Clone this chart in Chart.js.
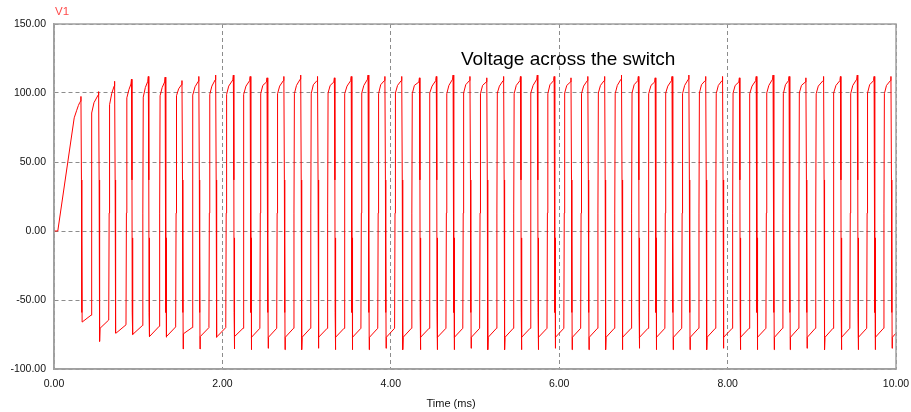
<!DOCTYPE html>
<html>
<head>
<meta charset="utf-8">
<script src="https://cdn.jsdelivr.net/npm/chart.js@4.4.1/dist/chart.umd.min.js"></script>
<style>
  html, body { margin: 0; padding: 0; background: #fff; }
  #wrap { width: 911px; height: 412px; }
</style>
</head>
<body>
<div id="wrap"><canvas id="chart" width="911" height="412"></canvas></div>
<script>
// start-up ramp before the first switching edge (ms, V)
const startT = [0, 0.045, 0.24, 0.27, 0.29, 0.305];
const startV = [0, 0, 82, 87.5, 91, 93];

// falling edges of the switch voltage (ms) and the values around them (V)
const fallT = [0.32, 0.53, 0.72, 0.92, 1.12, 1.32, 1.52, 1.72, 1.92, 2.13,
               2.33, 2.53, 2.73, 2.93, 3.13, 3.33, 3.53, 3.73, 3.93, 4.13,
               4.34, 4.54, 4.74, 4.94, 5.14, 5.34, 5.54, 5.74, 5.94, 6.14,
               6.34, 6.54, 6.74, 6.94, 7.14, 7.34, 7.54, 7.74, 7.94, 8.14,
               8.34, 8.54, 8.73, 8.93, 9.14, 9.34, 9.54, 9.74, 9.94];
const peakV = [97.5, 101, 108.5, 110, 112, 111.5, 109, 112, 113, 113,
               112, 111, 112, 113, 112, 111, 112, 113, 112, 112,
               111, 112, 113, 112, 111, 112, 112, 113, 112, 111,
               112, 112, 113, 112, 111, 112, 113, 112, 112, 111,
               112, 113, 112, 111, 112, 112, 113, 112, 112];
const kneeV = [94, 98.5, 105, 106.5, 108.5, 108, 106, 108.5, 109.5, 109.5,
               109, 108, 109, 110, 109, 108, 109, 110, 109, 109,
               108, 109, 110, 109, 108, 109, 109, 110, 109, 108,
               109, 109, 110, 109, 108, 109, 110, 109, 109, 108,
               109, 110, 109, 108, 109, 109, 110, 109, 109];
const dipV = [-66, -80, -74, -75, -76.5, -77, -85.5, -85.5, -77, -85.5,
              -86, -85, -86, -86, -85, -86, -86, -86, -85, -86,
              -86, -86, -86, -85, -86, -86, -86, -86, -85, -86,
              -86, -86, -86, -85, -86, -86, -86, -86, -85, -86,
              -86, -86, -86, -85, -86, -86, -86, -86, -85];
const lowA = [-66, -70.5, -74, -75, -76.5, -76.5, -74.5, -76.5, -76.5, -76.5,
              -77, -77, -77, -77, -77, -77, -77, -77, -77, -77,
              -77, -77, -77, -77, -77, -77, -77, -77, -77, -77,
              -77, -77, -77, -77, -77, -77, -77, -77, -77, -77,
              -77, -77, -77, -77, -77, -77, -77, -77, -77];

// rising edges (ms) and the values around them (V)
const riseT = [0.44, 0.65, 0.855, 1.05, 1.25, 1.445, 1.64, 1.84, 2.04, 2.245,
               2.445, 2.645, 2.845, 3.045, 3.245, 3.445, 3.645, 3.845, 4.045, 4.245,
               4.455, 4.655, 4.855, 5.055, 5.255, 5.455, 5.655, 5.855, 6.055, 6.255,
               6.455, 6.655, 6.855, 7.055, 7.255, 7.455, 7.655, 7.855, 8.055, 8.255,
               8.455, 8.652, 8.842, 9.042, 9.252, 9.452, 9.652, 9.852];
const lowB = [-61, -64.5, -68, -68.5, -69, -69.5, -70, -70, -70, -70.5,
              -70.5, -70.5, -70.5, -70.5, -70.5, -70.5, -70.5, -70.5, -70.5, -70.5,
              -70.5, -70.5, -70.5, -70.5, -70.5, -70.5, -70.5, -70.5, -70.5, -70.5,
              -70.5, -70.5, -70.5, -70.5, -70.5, -70.5, -70.5, -70.5, -70.5, -70.5,
              -70.5, -70.5, -70.5, -70.5, -70.5, -70.5, -70.5, -70.5];
const highV = [85.5, 91.5, 96.5, 97, 98, 98, 98.5, 99, 99, 99,
               99.5, 99.5, 99.5, 99.5, 100, 99.5, 100, 99.5, 100, 99.5,
               100, 99.5, 100, 99.5, 100, 99.5, 100, 99.5, 100, 99.5,
               100, 99.5, 100, 99.5, 100, 99.5, 100, 99.5, 100, 99.5,
               100, 99.5, 100, 99.5, 100, 99.5, 100, 99.5];
// value a little after each rise, where the top bends over
const midV = [93, 99.5, 102.5, 104, 104, 103, 104.5, 105, 105, 105,
              105.5, 105, 105.5, 106, 105.5, 105, 105.5, 106, 105.5, 105.5,
              105, 105.5, 106, 105.5, 105, 105.5, 105.5, 106, 105.5, 105,
              105.5, 105.5, 106, 105.5, 105, 105.5, 106, 105.5, 105.5, 105,
              105.5, 106, 105.5, 105, 105.5, 105.5, 106, 105.5];

// small steps seen on the edges (V)
const fallStepV = 37;
const ringLowV = -59;
const ringHighV = -5;
const riseStepV = 13;

// last sample at the end of the run
const endT = 10;
const endV = -74;

const xTicks = [0, 2, 4, 6, 8, 10];

const points = startT.map((t, i) => ({x: t, y: startV[i]}));
fallT.forEach((f, k) => {
    if (k > 0) {
        const r = riseT[k - 1];
        points.push({x: r, y: lowB[k - 1]}, {x: r + 0.005, y: riseStepV},
                    {x: r + 0.01, y: highV[k - 1]}, {x: r + 0.035, y: midV[k - 1]});
    }
    points.push({x: f - 0.006, y: kneeV[k]}, {x: f, y: peakV[k]});
    points.push({x: f + 0.006, y: fallStepV}, {x: f + 0.009, y: ringLowV}, {x: f + 0.011, y: ringHighV},
                {x: f + 0.014, y: dipV[k]}, {x: f + 0.017, y: lowA[k]});
});
points.push({x: endT, y: endV});

const FONT = 'Liberation Sans, Arial, sans-serif';

const frameAndText = {
    id: 'frameAndText',
    afterDraw(chart) {
        const {ctx, chartArea: a} = chart;
        ctx.save();
        ctx.strokeStyle = '#a0a0a0';
        ctx.lineWidth = 1.5;
        ctx.strokeRect(a.left, a.top, a.right - a.left, a.bottom - a.top);

        ctx.fillStyle = '#ff4a4a';
        ctx.font = '11.5px ' + FONT;
        ctx.textBaseline = 'middle';
        ctx.textAlign = 'left';
        ctx.fillText('V1', a.left + 1, 12);

        ctx.fillStyle = '#000';
        ctx.font = '19px ' + FONT;
        ctx.textBaseline = 'alphabetic';
        ctx.fillText('Voltage across the switch', 461, 65);

        ctx.fillStyle = '#111';
        ctx.font = '11px ' + FONT;
        ctx.textAlign = 'center';
        ctx.textBaseline = 'middle';
        ctx.fillText('Time (ms)', 451, 404);
        ctx.restore();
    }
};

new Chart(document.getElementById('chart'), {
    type: 'line',
    data: {
        datasets: [{
            label: 'V1',
            data: points,
            borderColor: '#ff0000',
            borderWidth: 1,
            pointRadius: 0,
            fill: false,
            tension: 0
        }]
    },
    options: {
        responsive: false,
        animation: false,
        layout: { padding: { left: 0, top: 24, right: 15, bottom: 0 } },
        plugins: {
            legend: { display: false },
            tooltip: { enabled: false }
        },
        scales: {
            x: {
                type: 'linear',
                min: 0,
                max: 10,
                afterFit: (s) => { s.height = 43; s.paddingLeft = 0; s.paddingRight = 0; },
                afterBuildTicks: (s) => { s.ticks = xTicks.map(v => ({value: v})); },
                ticks: {
                    padding: 9,
                    maxRotation: 0,
                    autoSkip: false,
                    color: '#111',
                    font: { family: FONT, size: 10.5 },
                    callback: (v) => v.toFixed(2)
                },
                grid: { color: '#8c8c8c', lineWidth: 1, drawTicks: false },
                border: { display: true, color: '#a0a0a0', width: 1.5, dash: [4, 3] }
            },
            y: {
                min: -100,
                max: 150,
                afterFit: (s) => { s.width = 54; },
                ticks: {
                    stepSize: 50,
                    padding: 8,
                    color: '#111',
                    font: { family: FONT, size: 10.5 },
                    callback: (v) => v.toFixed(2)
                },
                grid: { color: '#8c8c8c', lineWidth: 1, drawTicks: false },
                border: { display: true, color: '#a0a0a0', width: 1.5, dash: [4, 3] }
            }
        }
    },
    plugins: [frameAndText]
});
</script>
</body>
</html>
